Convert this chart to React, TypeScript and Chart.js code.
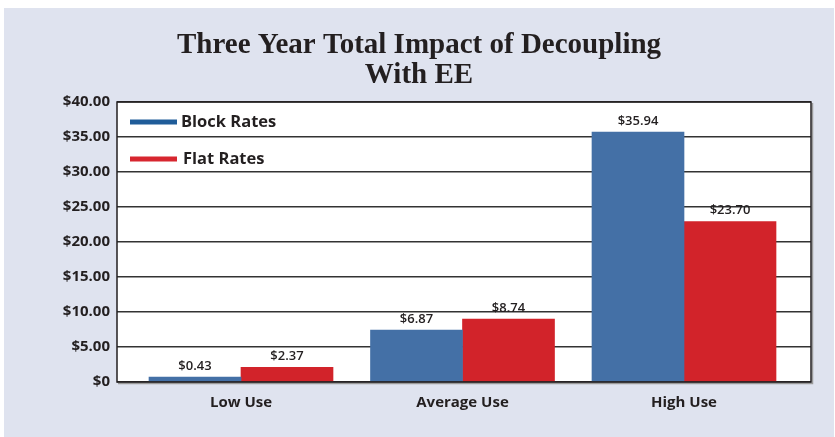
import React, { useEffect, useRef } from 'react';
import { Chart, registerables } from 'chart.js';

Chart.register(...registerables);

const categories = ['Low Use', 'Average Use', 'High Use'];
const seriesNames = ['Block Rates', 'Flat Rates'];
const blockRates = [0.7, 7.4, 35.7];
const flatRates = [2.1, 9.0, 22.9];
const blockLabels = ['$0.43', '$6.87', '$35.94'];
const flatLabels = ['$2.37', '$8.74', '$23.70'];
const titleLines = ['Three Year Total Impact of Decoupling', 'With EE'];
const yMin = 0;
const yMax = 40;
const yStep = 5;

const INK = '#231f20';
const BLUE = '#4470a6';
const RED = '#d2232a';
const LEGEND_BLUE = '#1f5c99';
const LEGEND_RED = '#d7262f';
const SANS = '"Open Sans", "Noto Sans", sans-serif';

const framePlugin = {
  id: 'frameAndLabels',
  beforeDraw(chart: any) {
    const { ctx, chartArea: a } = chart;
    ctx.save();
    ctx.fillStyle = '#ffffff';
    ctx.fillRect(a.left, a.top, a.right - a.left, a.bottom - a.top);
    ctx.restore();
  },
  afterDatasetsDraw(chart: any) {
    const { ctx, chartArea: a } = chart;
    ctx.save();
    // shadow
    ctx.strokeStyle = '#9a9a9a';
    ctx.lineWidth = 1.5;
    ctx.beginPath();
    ctx.moveTo(a.left + 1, a.bottom + 1.5);
    ctx.lineTo(a.right + 1.5, a.bottom + 1.5);
    ctx.lineTo(a.right + 1.5, a.top + 1);
    ctx.stroke();
    // frame
    ctx.strokeStyle = INK;
    ctx.lineWidth = 1.5;
    ctx.strokeRect(a.left, a.top, a.right - a.left, a.bottom - a.top);

    // data labels
    const labelSets = [blockLabels, flatLabels];
    ctx.fillStyle = INK;
    ctx.font = `600 13px ${SANS}`;
    ctx.textAlign = 'center';
    ctx.textBaseline = 'middle';
    chart.data.datasets.forEach((ds: any, di: number) => {
      const meta = chart.getDatasetMeta(di);
      meta.data.forEach((el: any, i: number) => {
        ctx.fillText(labelSets[di][i], el.x, el.y - 11);
      });
    });

    // legend inside plot
    const legendColors = [LEGEND_BLUE, LEGEND_RED];
    ctx.font = `bold 16.5px ${SANS}`;
    ctx.textAlign = 'left';
    chart.data.datasets.forEach((ds: any, di: number) => {
      const y = a.top + 20 + di * 37;
      const x0 = a.left + 13;
      ctx.fillStyle = legendColors[di];
      ctx.fillRect(x0, y - 2.5, 47, 5);
      ctx.fillStyle = INK;
      ctx.fillText(ds.label, x0 + 51 + di * 2, y);
    });
    ctx.restore();
  },
};

export default function App() {
  const ref = useRef<HTMLCanvasElement>(null);

  useEffect(() => {
    if (!ref.current) return;
    const pxPerCat = 221.5;
    const chart = new Chart(ref.current, {
      type: 'bar',
      data: {
        datasets: [
          {
            label: seriesNames[0],
            data: blockRates.map((v, i) => ({ x: i, y: v })),
            backgroundColor: BLUE,
            borderWidth: 0,
            barThickness: 92,
          },
          {
            label: seriesNames[1],
            data: flatRates.map((v, i) => ({ x: i, y: v })),
            backgroundColor: RED,
            borderWidth: 0,
            barThickness: 92,
          },
        ],
      },
      options: {
        animation: false,
        responsive: false,
        layout: { padding: { left: 23, right: 23, top: 0, bottom: 25 } },
        plugins: {
          legend: { display: false },
          tooltip: { enabled: false },
          title: {
            display: true,
            text: titleLines,
            color: INK,
            font: { family: '"Liberation Serif", "Times New Roman", serif', size: 29, weight: 'bold', lineHeight: 30 / 29 },
            padding: { top: 23, bottom: 11 },
          },
        },
        scales: {
          x: {
            type: 'linear',
            offset: false,
            min: -124 / pxPerCat,
            max: 2 + 127 / pxPerCat,
            grid: { display: false, drawTicks: false },
            border: { display: false },
            afterFit: (scale: any) => {
              scale.height = 30;
            },
            ticks: {
              stepSize: 1,
              includeBounds: false,
              autoSkip: false,
              maxRotation: 0,
              padding: 12,
              color: INK,
              font: { family: SANS, size: 15, weight: 'bold' },
              callback: (v: any) => (Number.isInteger(v) && categories[v] ? categories[v] : ''),
            },
          },
          y: {
            min: yMin,
            max: yMax,
            grid: { color: '#333333', lineWidth: 1.5, drawTicks: false },
            border: { display: false },
            afterFit: (scale: any) => {
              scale.width = 90;
            },
            ticks: {
              stepSize: yStep,
              padding: 7,
              color: INK,
              font: { family: SANS, size: 15, weight: 'bold' },
              callback: (v: any) => (v === 0 ? '$0' : '$' + Number(v).toFixed(2)),
            },
          },
        },
      },
      plugins: [framePlugin],
    } as any);
    return () => chart.destroy();
  }, []);

  return (
    <div style={{ position: 'fixed', left: 0, top: 0, width: 835, height: 437, background: '#ffffff' }}>
      <div style={{ position: 'absolute', left: 4, top: 8, width: 830, height: 429, background: '#dfe3ef' }}>
        <canvas ref={ref} width={830} height={429} style={{ display: 'block' }} />
      </div>
    </div>
  );
}
